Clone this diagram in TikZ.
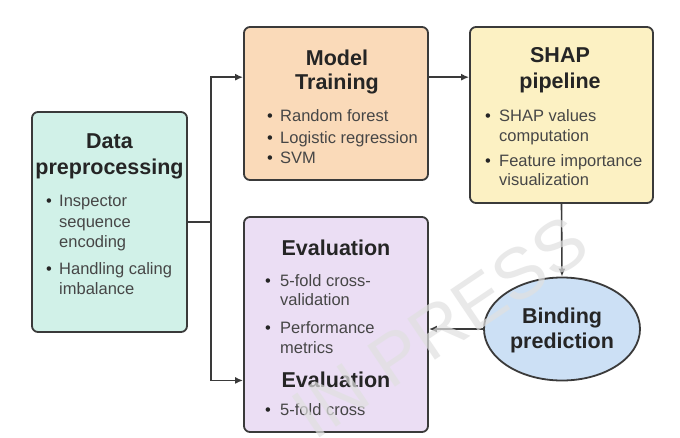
\documentclass[tikz,border=0pt]{standalone}
\usepackage{fontspec}
\setmainfont{Liberation Sans}
\usetikzlibrary{arrows.meta,shapes.geometric,calc}
\definecolor{edge}{HTML}{3A3A3A}
\definecolor{txt}{HTML}{252525}
\definecolor{mint}{HTML}{D1F1E8}
\definecolor{peach}{HTML}{FADAB9}
\definecolor{cream}{HTML}{FCF1C3}
\definecolor{lav}{HTML}{EBDEF4}
\definecolor{sky}{HTML}{CCE0F5}
\tikzset{
  box/.style={draw=edge, line width=1.8pt, rounded corners=6pt, inner sep=0pt},
  ttl/.style={anchor=base, text=txt, font=\fontsize{21.5}{26}\selectfont\bfseries, inner sep=0pt},
  itm/.style={anchor=base west, text=txt!85!white, font=\fontsize{16.5}{20}\selectfont, inner sep=0pt},
  bul/.style={anchor=base, text=txt, font=\fontsize{16.5}{20}\selectfont, inner sep=0pt},
  arr/.style={draw=edge, line width=1.6pt, -{Latex[length=8pt,width=7pt]}},
  ln/.style={draw=edge, line width=1.6pt},
  wm/.style={text=black!12, opacity=0.7, font=\fontsize{72}{80}\selectfont, rotate=34}
}
\begin{document}
\begin{tikzpicture}[x=1pt,y=-1pt]
\useasboundingbox[fill=white] (0,0) rectangle (680,437);

% boxes
\node[box, fill=mint,  minimum width=155, minimum height=220] (data)  at (109.5,222) {};
\node[box, fill=peach, minimum width=184, minimum height=153] (model) at (336,103.5) {};
\node[box, fill=cream, minimum width=183, minimum height=176] (shap)  at (561.5,115) {};
\node[box, fill=lav,   minimum width=184, minimum height=215] (eval)  at (336,324.5) {};
\node[draw=edge, line width=1.8pt, fill=sky, ellipse, minimum width=156, minimum height=103, inner sep=0pt] (bind) at (562,329) {};

% data text
\node[ttl] (d1) at (109.5,148) {Data};
\node[ttl] (d2) at (109.5,174) {preprocessing};
\node[bul] (db1) at (49,206) {•};
\node[itm] (dt1) at (59,206) {Inspector};
\node[itm] (dt2) at (59,227) {sequence};
\node[itm] (dt3) at (59,247) {encoding};
\node[bul] (db2) at (49,274) {•};
\node[itm] (dt4) at (59,274) {Handling caling};
\node[itm] (dt5) at (59,294) {imbalance};

% model text
\node[ttl] (m1) at (337,65) {Model};
\node[ttl] (m2) at (337,89) {Training};
\node[bul] (mb1) at (270,121) {•};
\node[itm] (mt1) at (280,121) {Random forest};
\node[bul] (mb2) at (270,143) {•};
\node[itm] (mt2) at (280,143) {Logistic regression};
\node[bul] (mb3) at (270,163) {•};
\node[itm] (mt3) at (280,163) {SVM};

% shap text
\node[ttl] (s1) at (560,62) {SHAP};
\node[ttl] (s2) at (560,88) {pipeline};
\node[bul] (sb1) at (488,121) {•};
\node[itm] (st1) at (499,121) {SHAP values};
\node[itm] (st2) at (499,141) {computation};
\node[bul] (sb2) at (488,166) {•};
\node[itm] (st3) at (499,166) {Feature importance};
\node[itm] (st4) at (499,185) {visualization};

% evaluation text
\node[ttl] (e1) at (336,255) {Evaluation};
\node[bul] (eb1) at (268,286) {•};
\node[itm] (et1) at (280,286) {5-fold cross-};
\node[itm] (et2) at (280,305) {validation};
\node[bul] (eb2) at (268,333) {•};
\node[itm] (et3) at (280,333) {Performance};
\node[itm] (et4) at (280,353) {metrics};
\node[ttl] (e2) at (336,387) {Evaluation};
\node[bul] (eb3) at (268,415) {•};
\node[itm] (et5) at (280,415) {5-fold cross};

% ellipse text
\node[ttl] (b1) at (562,323) {Binding};
\node[ttl] (b2) at (562,348) {prediction};

% connectors
\coordinate (j) at (211,222);
\coordinate (mIn) at ($(model.north west)!0.33!(model.south west)$);
\coordinate (eIn) at ($(eval.north west)!0.758!(eval.south west)$);
\coordinate (mOut) at ($(model.north east)!0.33!(model.south east)$);
\draw[ln] (data.east) -- (j);
\draw[arr] (j) |- (mIn);
\draw[arr] (j) |- (eIn);
\draw[arr] (mOut) -- (mOut -| shap.west);
\draw[arr] (shap.south) -- (bind.north);
\draw[arr] (bind.west) -- (bind.west -| eval.east);

% watermark
\node[wm] (wmk) at (440,327) {IN PRESS};
\end{tikzpicture}
\end{document}
